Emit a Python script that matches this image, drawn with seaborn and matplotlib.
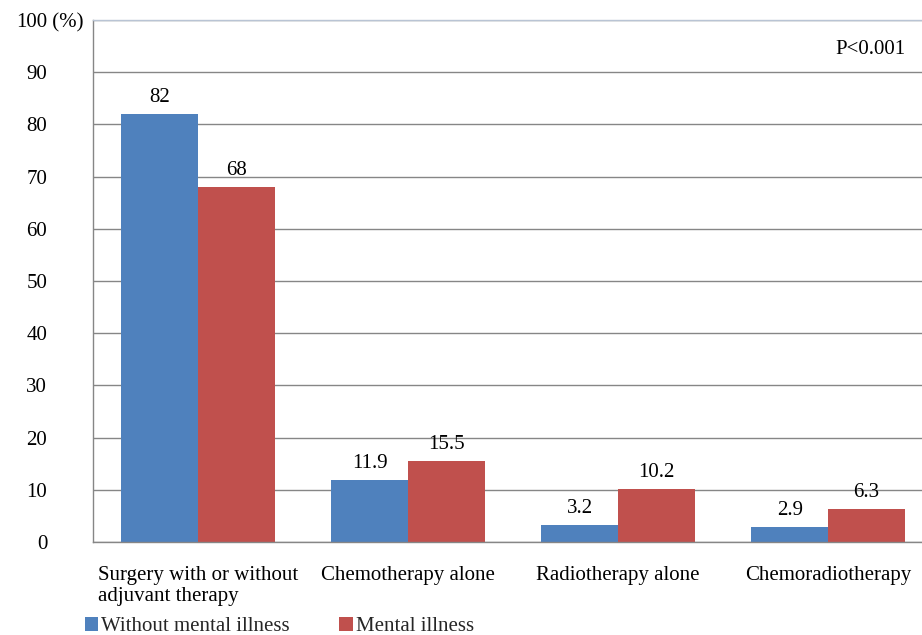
import matplotlib
matplotlib.use("Agg")
import matplotlib.pyplot as plt
import seaborn as sns
import pandas as pd
from matplotlib.patches import Patch

categories = ["Surgery with or without\nadjuvant therapy", "Chemotherapy alone",
              "Radiotherapy alone", "Chemoradiotherapy"]
without_mental = [82, 11.9, 3.2, 2.9]
mental = [68, 15.5, 10.2, 6.3]
without_labels = ["82", "11.9", "3.2", "2.9"]
mental_labels = ["68", "15.5", "10.2", "6.3"]
series = ["Without mental illness", "Mental illness"]
yticks = [0, 10, 20, 30, 40, 50, 60, 70, 80, 90, 100]
ytick_labels = ["0", "10", "20", "30", "40", "50", "60", "70", "80", "90", "100"]
y_unit = " (%)"
p_text = "P<0.001"
colors = ["#4F81BD", "#C0504D"]

df = pd.DataFrame({
    "category": categories * 2,
    "series": [series[0]] * 4 + [series[1]] * 4,
    "value": without_mental + mental,
})

FS = 15

sns.set_theme(style="white")
plt.rcParams["font.family"] = ["Liberation Serif", "DejaVu Serif"]

fig = plt.figure(figsize=(9.22, 6.35), dpi=100)
ax = fig.add_axes([93 / 922, 93 / 635, 840 / 922, 522 / 635])

sns.barplot(data=df, x="category", y="value", hue="series", palette=colors,
            width=0.73, saturation=1, ax=ax, legend=False, gap=0, linewidth=0)

for cont, labs in zip(ax.containers, [without_labels, mental_labels]):
    ax.bar_label(cont, labels=labs, padding=5, fontsize=FS, color="black")

ax.set_ylim(0, 100)
ax.set_xlim(-0.5, 3.5)
ax.set_yticks(yticks)
ax.set_yticklabels(ytick_labels, fontsize=FS, color="black")
ax.yaxis.grid(True, color="#868686", linewidth=1)
ax.set_axisbelow(True)
ax.set_xlabel("")
ax.set_ylabel("")
ax.tick_params(axis="both", length=0)
ax.tick_params(axis="y", pad=33)
ax.tick_params(axis="x", pad=17)
for lbl in ax.get_xticklabels():
    lbl.set_fontsize(FS)
    lbl.set_color("black")
    lbl.set_multialignment("left")

# unit after the top tick label
ax.text((47 - 93) / 840, yticks[-1], y_unit, transform=ax.get_yaxis_transform(),
        ha="left", va="center_baseline", fontsize=FS, color="black", clip_on=False)

ax.spines["right"].set_visible(False)
ax.spines["left"].set_color("#868686")
ax.spines["bottom"].set_color("#868686")
ax.spines["top"].set_color("#B9C4D4")
for s in ["left", "bottom", "top"]:
    ax.spines[s].set_linewidth(1)

fig.text(905 / 922, 1 - 50 / 635, p_text, ha="right", va="center",
         fontsize=FS, color="black")

handles = [Patch(facecolor=c, edgecolor="none") for c in colors]
fig.legend(handles, series, loc="lower left", bbox_to_anchor=(72 / 922, -0.022),
           ncol=2, frameon=False, fontsize=FS, handlelength=0.63, handleheight=0.62,
           handletextpad=0.15, columnspacing=2.4, borderaxespad=0.2)

fig.savefig("out.png", dpi=100)
